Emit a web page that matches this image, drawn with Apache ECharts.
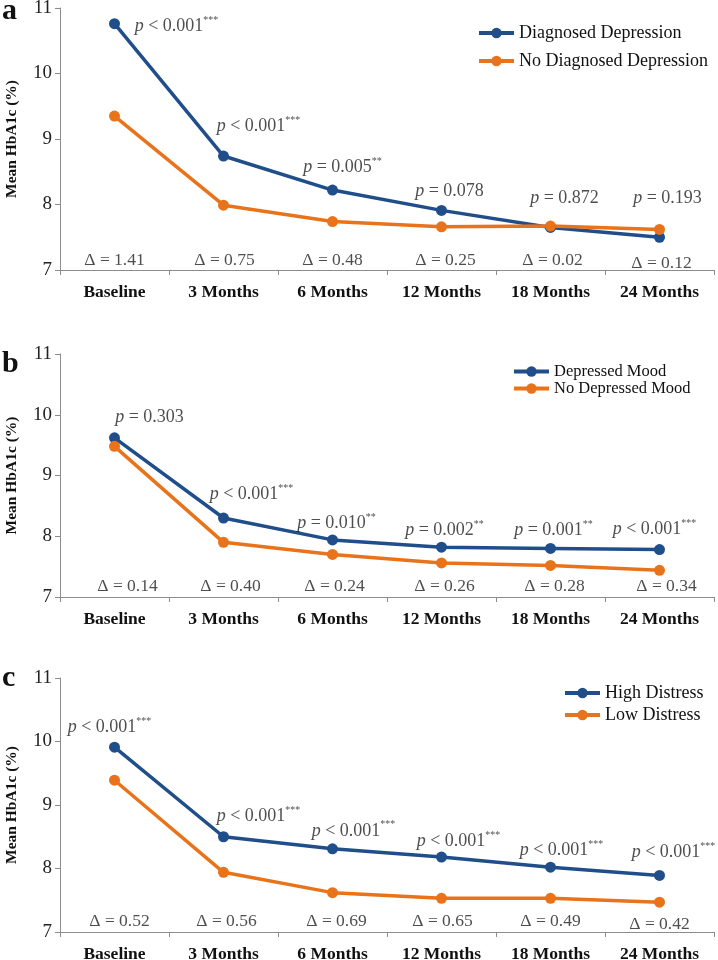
<!DOCTYPE html>
<html><head><meta charset="utf-8">
<script src="https://cdn.jsdelivr.net/npm/echarts@6/dist/echarts.min.js"></script>
<style>html,body{margin:0;padding:0;background:#fff}#c{width:718px;height:960px}</style>
</head><body><div id="c"></div>
<script>
// ---------- DATA ----------
const categories = ['Baseline', '3 Months', '6 Months', '12 Months', '18 Months', '24 Months'];
const yMin = 7, yMax = 11, yStep = 1;
const yTitle = 'Mean HbA1c (%)';

// Panel a
const aLetter = 'a';
const aNames = ['Diagnosed Depression', 'No Diagnosed Depression'];
const aHigh = [10.76, 8.74, 8.22, 7.91, 7.65, 7.50];
const aLow = [9.35, 7.99, 7.74, 7.66, 7.67, 7.62];
const aP = ['p < 0.001***', 'p < 0.001***', 'p = 0.005**', 'p = 0.078', 'p = 0.872', 'p = 0.193'];
const aDelta = ['1.41', '0.75', '0.48', '0.25', '0.02', '0.12'];

// Panel b
const bLetter = 'b';
const bNames = ['Depressed Mood', 'No Depressed Mood'];
const bHigh = [9.62, 8.30, 7.94, 7.82, 7.80, 7.78];
const bLow = [9.48, 7.90, 7.70, 7.56, 7.52, 7.44];
const bP = ['p = 0.303', 'p < 0.001***', 'p = 0.010**', 'p = 0.002**', 'p = 0.001**', 'p < 0.001***'];
const bDelta = ['0.14', '0.40', '0.24', '0.26', '0.28', '0.34'];

// Panel c
const cLetter = 'c';
const cNames = ['High Distress', 'Low Distress'];
const cHigh = [9.91, 8.50, 8.31, 8.18, 8.02, 7.89];
const cLow = [9.39, 7.94, 7.62, 7.53, 7.53, 7.47];
const cP = ['p < 0.001***', 'p < 0.001***', 'p < 0.001***', 'p < 0.001***', 'p < 0.001***', 'p < 0.001***'];
const cDelta = ['0.52', '0.56', '0.69', '0.65', '0.49', '0.42'];

// ---------- LAYOUT / STYLE ----------
const BLUE = '#1F4E8A', ORANGE = '#E8731A', AXIS = '#8c8c8c', SERIF = '"Liberation Serif", "Times New Roman", serif';

const panels = [
  { letter: aLetter, names: aNames, high: aHigh, low: aLow, p: aP, delta: aDelta,
    top: 8, height: 262, letterY: 11,
    legend: { left: 477, top: 24, gap: 10, font: 18 },
    pOff: [[62, 3], [35, -30], [10, -23], [8, -19], [14, -29], [8, -39]],
    dOff: [[0, 0], [1, 0], [0, 0], [4, 0], [2, 0], [2, 3]], dY: 7.15 },
  { letter: bLetter, names: bNames, high: bHigh, low: bLow, p: bP, delta: bDelta,
    top: 354, height: 243, letterY: 364,
    legend: { left: 512, top: 363, gap: 0, font: 16.5 },
    pOff: [[35, -21], [28, -24], [4, -17], [3, -17], [3, -18], [-5, -20]],
    dOff: [[13, 0], [7, 0], [2, 0], [3, 0], [4, 0], [7, 0]], dY: 7.18 },
  { letter: cLetter, names: cNames, high: cHigh, low: cLow, p: cP, delta: cDelta,
    top: 678, height: 254, letterY: 678,
    legend: { left: 563, top: 684, gap: 4, font: 18 },
    pOff: [[-5, -20], [35, -20], [21, -18], [17, -16], [11, -17], [14, -23]],
    dOff: [[5, 0], [3, 0], [4, 0], [1, 0], [0, 0], [0, 3]], dY: 7.17 }
];

function pRich(t) {
  const m = t.match(/^p(.*?)(\**)$/);
  return '{i|p}{n|' + m[1] + '}' + (m[2] ? '{s|' + m[2] + '}' : '');
}

const grid = [], xAxis = [], yAxis = [], series = [], legend = [], graphic = [];
panels.forEach((P, k) => {
  grid.push({ left: 60, width: 654, top: P.top, height: P.height, containLabel: false, outerBoundsMode: 'none' });
  xAxis.push({
    type: 'category', gridIndex: k, data: categories, boundaryGap: true,
    axisLine: { lineStyle: { color: AXIS, width: 1 } },
    axisTick: { show: true, length: 5, lineStyle: { color: AXIS } },
    axisLabel: { interval: 0, margin: 13, color: '#111', fontFamily: SERIF, fontWeight: 'bold', fontSize: 17.5 },
    splitLine: { show: false }
  });
  yAxis.push({
    type: 'value', gridIndex: k, min: yMin, max: yMax, interval: yStep,
    name: yTitle, nameLocation: 'middle', nameGap: 40,
    nameTextStyle: { fontFamily: SERIF, fontWeight: 'bold', fontSize: 15.5, color: '#111' },
    axisLine: { show: true, lineStyle: { color: AXIS, width: 1 } },
    axisTick: { show: true, length: 5, lineStyle: { color: AXIS } },
    axisLabel: { margin: 8, color: '#222', fontFamily: SERIF, fontSize: 19 },
    splitLine: { show: false }
  });
  const mk = (name, data, color) => ({
    type: 'line', name, data, xAxisIndex: k, yAxisIndex: k,
    symbol: 'circle', symbolSize: 11, showSymbol: true,
    lineStyle: { color, width: 3.5 }, itemStyle: { color },
    animation: false, silent: true
  });
  series.push(mk(P.names[0], P.high, BLUE));
  series.push(mk(P.names[1], P.low, ORANGE));
  // p-value annotations anchored on the upper series points
  series.push({
    type: 'scatter', xAxisIndex: k, yAxisIndex: k, silent: true, animation: false,
    symbol: 'circle', symbolSize: 1, itemStyle: { color: 'rgba(0,0,0,0)' }, z: 5,
    data: P.high.map((v, i) => ({
      value: v,
      label: { show: true, position: 'inside', offset: P.pOff[i],
        formatter: pRich(P.p[i]),
        rich: {
          i: { fontFamily: SERIF, fontStyle: 'italic', fontSize: 18, color: '#222', lineHeight: 22 },
          n: { fontFamily: SERIF, fontSize: 18, color: '#222', lineHeight: 22 },
          s: { fontFamily: SERIF, fontSize: 10, color: '#222', lineHeight: 13, verticalAlign: 'top' }
        } }
    }))
  });
  // delta annotations along the bottom
  series.push({
    type: 'scatter', xAxisIndex: k, yAxisIndex: k, silent: true, animation: false,
    symbol: 'circle', symbolSize: 1, itemStyle: { color: 'rgba(0,0,0,0)' }, z: 5,
    data: P.delta.map((d, i) => ({
      value: P.dY,
      label: { show: true, position: 'inside', offset: P.dOff[i],
        formatter: 'Δ = ' + d, fontFamily: SERIF, fontSize: 17.5, color: '#222' }
    }))
  });
  legend.push({
    data: P.names, orient: 'vertical', left: P.legend.left, top: P.legend.top,
    itemGap: P.legend.gap, itemWidth: 35, itemHeight: 13, padding: 0,
    selectedMode: false, lineStyle: { width: 4 },
    textStyle: { fontFamily: SERIF, fontSize: P.legend.font, color: '#111' }
  });
  graphic.push({
    type: 'text', left: 2, top: P.letterY - 15,
    style: { text: P.letter, font: 'bold 30px ' + SERIF, fill: '#111' }
  });
});

const chart = echarts.init(document.getElementById('c'), null, { renderer: 'canvas' });
chart.setOption({ backgroundColor: '#fff', animation: false, grid, xAxis, yAxis, series, legend, graphic });
</script>
</body></html>
